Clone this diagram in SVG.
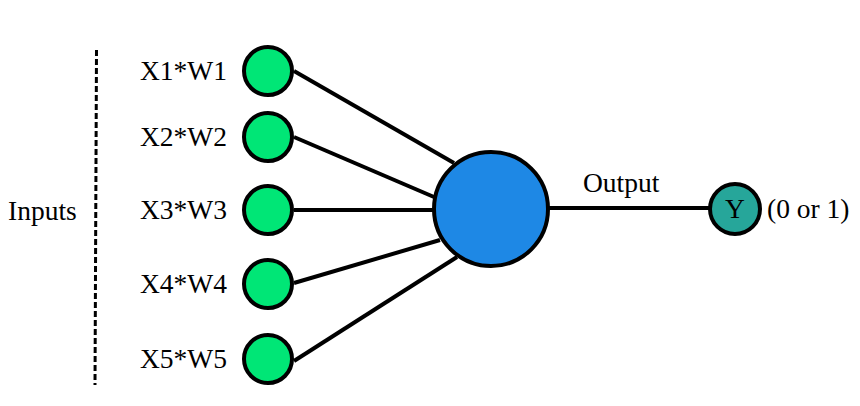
<svg xmlns="http://www.w3.org/2000/svg" width="860" height="406" viewBox="0 0 860 406">
<style>
.lbl{font-family:"Liberation Serif","Times New Roman",serif;font-size:27.5px;fill:#000}
.in{fill:#00E676;stroke:#000;stroke-width:4}
.edge{stroke:#000;stroke-width:4;fill:none}
</style>
<rect width="860" height="406" fill="#fff"/>
<g id="connectors">
<line class="edge" x1="294" y1="71" x2="454" y2="163"/>
<line class="edge" x1="294" y1="137" x2="434" y2="197"/>
<line class="edge" x1="294" y1="210" x2="434" y2="210"/>
<line class="edge" x1="294" y1="283" x2="440" y2="240"/>
<line class="edge" x1="294" y1="361" x2="457" y2="257"/>
<line class="edge" x1="548" y1="208" x2="710" y2="208"/>
<line id="divider" x1="96.5" y1="50" x2="95" y2="385" stroke="#000" stroke-width="3" stroke-dasharray="6 3"/>
</g>
<g id="inputs-label"><text class="lbl" x="8" y="220" font-size="28">Inputs</text></g>
<g id="in1"><circle class="in" cx="268" cy="71" r="24"/><text class="lbl" x="140" y="80">X1*W1</text></g>
<g id="in2"><circle class="in" cx="268" cy="137" r="24"/><text class="lbl" x="140" y="146">X2*W2</text></g>
<g id="in3"><circle class="in" cx="268" cy="210" r="24"/><text class="lbl" x="140" y="219">X3*W3</text></g>
<g id="in4"><circle class="in" cx="268" cy="284" r="24"/><text class="lbl" x="140" y="293">X4*W4</text></g>
<g id="in5"><circle class="in" cx="268" cy="359" r="24"/><text class="lbl" x="140" y="368">X5*W5</text></g>
<g id="neuron"><circle cx="491" cy="209" r="57" fill="#1E88E5" stroke="#000" stroke-width="4"/></g>
<g id="output-label"><text class="lbl" x="583" y="192" font-size="24.5">Output</text></g>
<g id="y"><circle cx="735" cy="209" r="25" fill="#26A69A" stroke="#000" stroke-width="4"/><text class="lbl" x="735" y="218" text-anchor="middle">Y</text><text class="lbl" x="767" y="218">(0 or 1)</text></g>
</svg>
